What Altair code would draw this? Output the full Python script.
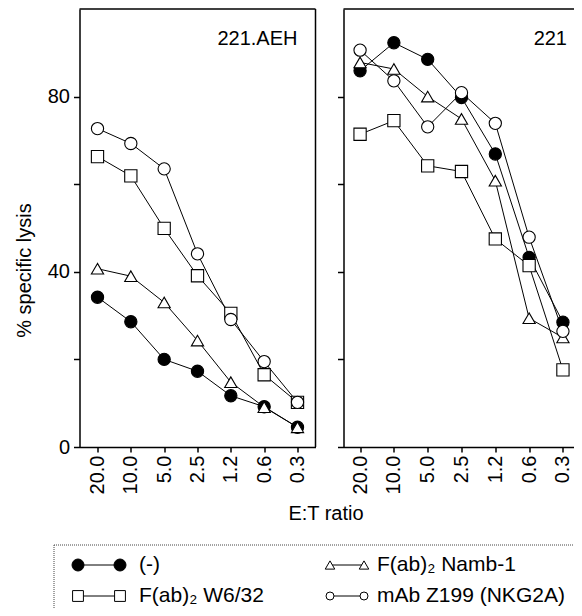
import altair as alt
import pandas as pd

# ---------------- data ----------------
ratios = ["20.0", "10.0", "5.0", "2.5", "1.2", "0.6", "0.3"]
series = ["(-)", "F(ab)₂ W6/32", "F(ab)₂ Namb-1", "mAb Z199 (NKG2A)"]
shapes = ["circle", "square", "triangle-up", "circle"]
fills = ["black", "white", "white", "white"]

# 221.AEH panel
aeh_neg = [34.2, 28.6, 20.0, 17.3, 11.7, 9.2, 4.5]
aeh_w632 = [66.3, 61.9, 49.9, 39.1, 30.5, 16.5, 10.2]
aeh_namb = [40.7, 39.0, 33.0, 24.3, 14.8, 9.1, 4.5]
aeh_z199 = [72.7, 69.3, 63.5, 44.1, 29.1, 19.5, 10.2]

# 221 panel
c221_neg = [85.9, 92.3, 88.5, 79.8, 66.9, 43.3, 28.5]
c221_w632 = [71.4, 74.5, 64.2, 62.9, 47.5, 41.4, 17.6]
c221_namb = [87.8, 86.3, 80.0, 74.9, 60.8, 29.4, 25.0]
c221_z199 = [90.6, 83.6, 73.1, 80.9, 73.9, 47.9, 26.4]

FONT = "Liberation Sans"
H = 438              # plot height of the panels
LW = 236             # left panel width
GAP = 28             # gap between panels
RW = 236             # right panel width (its right edge lies past the picture)
RX = LW + GAP        # right panel left edge
PAD_L, PAD_T = 71.5, 1
SVG_W, SVG_H = 566, 600
W = SVG_W - PAD_L    # visible drawing width


def long_table(cols):
    rows = []
    for k, (s, vals) in enumerate(zip(series, cols)):
        for r, v in zip(ratios, vals):
            rows.append({"series": s, "ratio": r, "lysis": v, "k": k})
    return pd.DataFrame(rows)


shape_scale = alt.Scale(domain=series, range=shapes)
fill_scale = alt.Scale(domain=series, range=fills)
size_scale = alt.Scale(domain=series, range=[150, 150, 165, 150])


def panel(df, xscale, left):
    if left:
        yaxis = alt.Axis(values=[0, 20, 40, 60, 80],
                         labelExpr="datum.value % 40 === 0 ? datum.label : ''",
                         title="% specific lysis", titleX=-55, titleY=261,
                         titleAlign="center", titleBaseline="middle",
                         tickSize=6, labelPadding=4, orient="left")
        xaxis = alt.Axis(labelAngle=270, tickSize=5, labelPadding=3, orient="bottom",
                         title="E:T ratio", titleX=246, titleY=56)
    else:
        yaxis = alt.Axis(values=[0, 20, 40, 60, 80], labels=False, title=None,
                         tickSize=6, orient="left", offset=-RX)
        xaxis = alt.Axis(labelAngle=270, tickSize=5, labelPadding=3, title=None,
                         orient="bottom")
    x = alt.X("ratio:N", sort=ratios, scale=xscale, axis=xaxis)
    y = alt.Y("lysis:Q", scale=alt.Scale(domain=[0, 100], nice=False), axis=yaxis)
    base = alt.Chart(df)
    lines = base.mark_line(color="black", strokeWidth=1).encode(
        x=x, y=y, detail="series:N")
    pts = base.mark_point(filled=True, stroke="black", strokeWidth=1.1,
                          opacity=1).encode(
        x=x, y=y,
        shape=alt.Shape("series:N", scale=shape_scale, legend=None),
        fill=alt.Fill("series:N", scale=fill_scale, legend=None),
        size=alt.Size("series:N", scale=size_scale, legend=None),
        order=alt.Order("k:Q"),
    )
    return alt.layer(lines, pts)


left = panel(long_table([aeh_neg, aeh_w632, aeh_namb, aeh_z199]),
             alt.Scale(type="point", padding=0.54, range=[0, LW]), True)
right = panel(long_table([c221_neg, c221_w632, c221_namb, c221_z199]),
              alt.Scale(type="point", padding=0.49, range=[RX, RX + RW]), False)

# ---------------- frames and panel names ----------------
px_scale = alt.Scale(domain=[0, W], nice=False, zero=False)
frame_h = alt.Chart(pd.DataFrame({"a": [0, RX], "b": [LW, RX + RW + 20]})).mark_rule(
    color="black", strokeWidth=1.5).encode(
    x=alt.X("a:Q", scale=px_scale, axis=None), x2="b:Q", y=alt.value(0))
frame_v = alt.Chart(pd.DataFrame({"a": [0]})).mark_rule(
    color="black", strokeWidth=1.5).encode(
    x=alt.value(LW), y=alt.value(0), y2=alt.value(H))
names = alt.Chart(pd.DataFrame({"t": ["221.AEH", "221"],
                                "px": [LW - 18, 487.5]})).mark_text(
    align="right", baseline="middle", fontSize=20, font=FONT, color="black").encode(
    x=alt.X("px:Q", scale=px_scale, axis=None), y=alt.value(30), text="t:N")

# ---------------- legend (pixel layout relative to the left panel origin) -------
box_left, box_top, box_bottom = -25.5, 536, 640
col_sym = [(-1.5, 40.5), (250.5, 284.5)]
col_txt = [59.5, 297.5]
row_y = [556, 587]
leg_sizes = [144, 64, 110, 81]
leg_pos = [(0, 0), (1, 0), (0, 1), (1, 1)]  # (row, col) of each series

leg_rows, sym_rows = [], []
for i, s in enumerate(series):
    r, c = leg_pos[i]
    yy = row_y[r]
    x1, x2 = col_sym[c]
    leg_rows.append({"series": s, "x1": x1, "x2": x2, "y": yy, "tx": col_txt[c]})
    for xx in (x1, x2):
        sym_rows.append({"series": s, "x": xx, "y": yy})
leg_df = pd.DataFrame(leg_rows)
sym_df = pd.DataFrame(sym_rows)

lx = alt.Scale(domain=[0, W], nice=False, zero=False)
ly = alt.Scale(domain=[0, H], nice=False, zero=False, reverse=True)

box_df = pd.DataFrame({"x": [box_left, box_left], "x2": [RX + RW + 20, box_left],
                       "y": [box_top, box_top], "y2": [box_top, box_bottom]})
box = alt.Chart(box_df).mark_rule(color="#444", strokeWidth=1, strokeDash=[1, 1]).encode(
    x=alt.X("x:Q", scale=lx, axis=None), x2="x2:Q",
    y=alt.Y("y:Q", scale=ly, axis=None), y2="y2:Q")
conn = alt.Chart(leg_df).mark_rule(color="black", strokeWidth=1).encode(
    x=alt.X("x1:Q", scale=lx, axis=None), x2="x2:Q",
    y=alt.Y("y:Q", scale=ly, axis=None))
syms = alt.Chart(sym_df).mark_point(filled=True, stroke="black", strokeWidth=1,
                                    opacity=1).encode(
    x=alt.X("x:Q", scale=lx, axis=None),
    y=alt.Y("y:Q", scale=ly, axis=None),
    shape=alt.Shape("series:N", scale=shape_scale, legend=None),
    fill=alt.Fill("series:N", scale=fill_scale, legend=None),
    size=alt.Size("series:N", scale=alt.Scale(domain=series, range=leg_sizes), legend=None))
texts = alt.Chart(leg_df).mark_text(align="left", baseline="middle", fontSize=21,
                                    font=FONT, color="black").encode(
    x=alt.X("tx:Q", scale=lx, axis=None),
    y=alt.Y("y:Q", scale=ly, axis=None),
    text="series:N")
legend = alt.layer(box, conn, syms, texts)

chart = alt.layer(left, right, frame_h, frame_v, names, legend).resolve_scale(
    x="independent", y="independent", size="independent"
).resolve_axis(x="independent", y="independent").properties(
    width=W, height=H,
    autosize=alt.AutoSizeParams(type="none"),
    padding={"left": PAD_L, "top": PAD_T, "right": 0, "bottom": SVG_H - H - PAD_T}
).configure_axis(
    labelFont=FONT, titleFont=FONT, labelFontSize=20, titleFontSize=20,
    titleFontWeight="normal", labelColor="black", titleColor="black",
    domainColor="black", tickColor="black", domainWidth=1.5, tickWidth=1.5,
    grid=False
).configure_view(stroke="transparent").configure_text(font=FONT)

chart.save("out.html", embed_options={"renderer": "svg", "actions": False})
